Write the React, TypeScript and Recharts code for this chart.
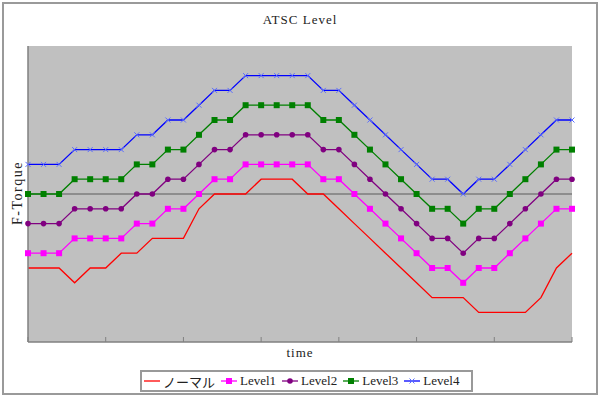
import { CartesianGrid, Line, LineChart, ReferenceLine, XAxis, YAxis } from 'recharts';

// 36 samples along the time axis (labels are not shown on the chart)
const times = [
  '1', '2', '3', '4', '5', '6', '7', '8', '9', '10', '11', '12',
  '13', '14', '15', '16', '17', '18', '19', '20', '21', '22', '23', '24',
  '25', '26', '27', '28', '29', '30', '31', '32', '33', '34', '35', '36',
];

const normal = [-5, -5, -5, -6, -5, -5, -4, -4, -3, -3, -3, -1, 0, 0, 0, 1, 1, 1, 0, 0, -1, -2, -3, -4, -5, -6, -7, -7, -7, -8, -8, -8, -8, -7, -5, -4];
const level1 = [-4, -4, -4, -3, -3, -3, -3, -2, -2, -1, -1, 0, 1, 1, 2, 2, 2, 2, 2, 1, 1, 0, -1, -2, -3, -4, -5, -5, -6, -5, -5, -4, -3, -2, -1, -1];
const level2 = [-2, -2, -2, -1, -1, -1, -1, 0, 0, 1, 1, 2, 3, 3, 4, 4, 4, 4, 4, 3, 3, 2, 1, 0, -1, -2, -3, -3, -4, -3, -3, -2, -1, 0, 1, 1];
const level3 = [0, 0, 0, 1, 1, 1, 1, 2, 2, 3, 3, 4, 5, 5, 6, 6, 6, 6, 6, 5, 5, 4, 3, 2, 1, 0, -1, -1, -2, -1, -1, 0, 1, 2, 3, 3];
const level4 = [2, 2, 2, 3, 3, 3, 3, 4, 4, 5, 5, 6, 7, 7, 8, 8, 8, 8, 8, 7, 7, 6, 5, 4, 3, 2, 1, 1, 0, 1, 1, 2, 3, 4, 5, 5];

const data = times.map((time, i) => ({
  time,
  normal: normal[i],
  level1: level1[i],
  level2: level2[i],
  level3: level3[i],
  level4: level4[i],
}));

const FONT = '"Liberation Serif", "DejaVu Serif", "Noto Sans CJK JP", serif';

type Marker = 'none' | 'square' | 'circle' | 'x';

const series: { key: string; name: string; color: string; marker: Marker }[] = [
  { key: 'normal', name: 'ノーマル', color: '#ff0000', marker: 'none' },
  { key: 'level1', name: 'Level1', color: '#ff00ff', marker: 'square' },
  { key: 'level2', name: 'Level2', color: '#800080', marker: 'circle' },
  { key: 'level3', name: 'Level3', color: '#008000', marker: 'square' },
  { key: 'level4', name: 'Level4', color: '#0000ff', marker: 'x' },
];

const drawMarker = (marker: Marker, color: string, cx: number, cy: number, key?: string) => {
  if (marker === 'square') {
    return <rect key={key} x={cx - 3} y={cy - 3} width={6} height={6} fill={color} />;
  }
  if (marker === 'circle') {
    return <circle key={key} cx={cx} cy={cy} r={2.8} fill={color} />;
  }
  if (marker === 'x') {
    return (
      <path
        key={key}
        d={`M${cx - 2.5},${cy - 2.5}L${cx + 2.5},${cy + 2.5}M${cx - 2.5},${cy + 2.5}L${cx + 2.5},${cy - 2.5}`}
        stroke="#5a6cff"
        strokeWidth={1}
        fill="none"
      />
    );
  }
  return <g key={key} />;
};

// tick marks point up into the plot, no labels
const InnerTick = (props: any) => (
  <line x1={props.x} x2={props.x} y1={props.y} y2={props.y - 5} stroke="#808080" strokeWidth={1} />
);

const LegendBox = () => (
  <div
    style={{
      position: 'absolute',
      left: 140,
      top: 370,
      width: 333,
      height: 22,
      boxSizing: 'border-box',
      border: '2px solid #999',
      display: 'flex',
      alignItems: 'center',
      paddingLeft: 2,
      fontFamily: FONT,
      fontSize: 13,
      color: '#222',
    }}
  >
    {series.map((s) => (
      <div key={s.key} style={{ display: 'flex', alignItems: 'center', marginRight: 6 }}>
        <svg width={16} height={10} style={{ marginRight: 3 }}>
          <line x1={0} y1={5} x2={16} y2={5} stroke={s.color} strokeWidth={1.3} />
          {drawMarker(s.marker, s.color, 8, 5)}
        </svg>
        <span>{s.name}</span>
      </div>
    ))}
  </div>
);

export default function App() {
  return (
    <div style={{ position: 'absolute', left: 0, top: 0, width: 600, height: 397, background: '#fff' }}>
      <div
        style={{
          position: 'absolute',
          left: 2,
          top: 2,
          width: 596,
          height: 393,
          boxSizing: 'border-box',
          border: '2px solid #9a9a9a',
        }}
      />
      <div
        style={{
          position: 'absolute',
          left: 0,
          top: 12,
          width: 600,
          textAlign: 'center',
          fontFamily: FONT,
          fontSize: 13,
          letterSpacing: 1,
          color: '#222',
        }}
      >
        ATSC Level
      </div>
      <div
        style={{
          position: 'absolute',
          left: 18,
          top: 193,
          transform: 'translate(-50%, -50%) rotate(-90deg)',
          fontFamily: FONT,
          fontSize: 14,
          letterSpacing: 1.5,
          whiteSpace: 'nowrap',
          color: '#222',
        }}
      >
        F-Torque
      </div>
      <div
        style={{
          position: 'absolute',
          left: 0,
          top: 345,
          width: 600,
          textAlign: 'center',
          fontFamily: FONT,
          fontSize: 13,
          letterSpacing: 1,
          color: '#222',
        }}
      >
        time
      </div>
      <LineChart
        width={600}
        height={397}
        data={data}
        margin={{ top: 46, right: 28, bottom: 54, left: 27 }}
        style={{ position: 'absolute', left: 0, top: 0 }}
      >
        <CartesianGrid vertical={false} horizontal={false} stroke="none" fill="#c0c0c0" fillOpacity={1} />
        <ReferenceLine y={0} stroke="#5a5a5a" strokeWidth={1} />
        <XAxis
          dataKey="time"
          interval={4}
          height={1}
          tickSize={0}
          tickMargin={0}
          tickLine={false}
          tick={<InnerTick />}
          axisLine={{ stroke: '#808080', strokeWidth: 1.5 }}
        />
        <YAxis
          domain={[-10, 10]}
          width={1}
          tick={false}
          tickLine={false}
          axisLine={{ stroke: '#808080', strokeWidth: 1.5 }}
        />
        {series.map((s) => (
          <Line
            key={s.key}
            type="linear"
            dataKey={s.key}
            name={s.name}
            stroke={s.color}
            strokeWidth={1.3}
            isAnimationActive={false}
            activeDot={false}
            dot={
              s.marker === 'none'
                ? false
                : (props: any) => drawMarker(s.marker, s.color, props.cx, props.cy, `${s.key}-${props.index}`)
            }
          />
        ))}
      </LineChart>
      <LegendBox />
    </div>
  );
}
